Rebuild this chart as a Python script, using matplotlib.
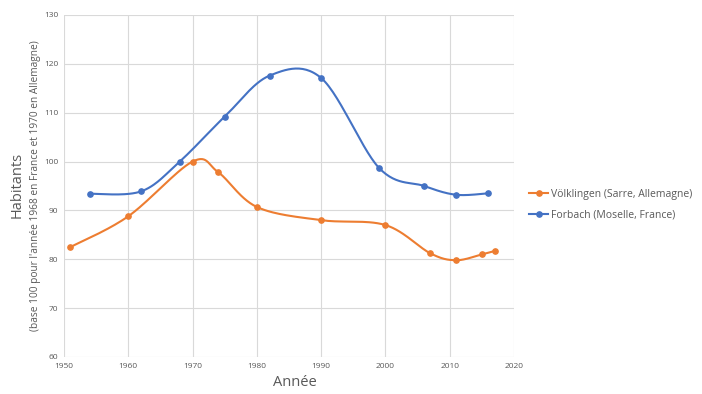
import numpy as np
import matplotlib.pyplot as plt

# Valeurs (base 100)
volk_years = [1951, 1960, 1970, 1974, 1980, 1990, 2000, 2007, 2011, 2015, 2017]
volk_values = [82.5, 88.8, 100.0, 97.8, 90.7, 88.0, 87.0, 81.2, 79.8, 81.0, 81.7]

forb_years = [1954, 1962, 1968, 1975, 1982, 1990, 1999, 2006, 2011, 2016]
forb_values = [93.4, 93.9, 100.0, 109.2, 117.6, 117.1, 98.7, 95.0, 93.2, 93.5]

volk_label = "Völklingen (Sarre, Allemagne)"
forb_label = "Forbach (Moselle, France)"

plt.rcParams['font.family'] = ['Open Sans', 'DejaVu Sans']


# Excel-style smoothed line (cardinal spline through the points)
def smooth(xs, ys, n=30):
    p = np.column_stack([xs, ys]).astype(float)
    p = np.vstack([p[0], p, p[-1]])
    out = []
    for i in range(1, len(p) - 2):
        p0, p1, p2, p3 = p[i - 1], p[i], p[i + 1], p[i + 2]
        c1 = p1 + (p2 - p0) / 6
        c2 = p2 - (p3 - p1) / 6
        t = np.linspace(0, 1, n)[:, None]
        seg = ((1 - t) ** 3) * p1 + 3 * ((1 - t) ** 2) * t * c1 + 3 * (1 - t) * t ** 2 * c2 + t ** 3 * p2
        out.append(seg)
    out = np.vstack(out)
    return out[:, 0], out[:, 1]


fig = plt.figure(figsize=(7.02, 3.94), dpi=100)
ax = fig.add_axes([0.0912, 0.094, 0.641, 0.868])

orange = '#ED7D31'
blue = '#4472C4'

sx, sy = smooth(volk_years, volk_values)
ax.plot(sx, sy, color=orange, lw=1.5)
ax.plot(volk_years, volk_values, 'o', color=orange, ms=3.8)
ax.plot([], [], '-o', color=orange, ms=3.8, lw=1.5, label=volk_label)

sx, sy = smooth(forb_years, forb_values)
ax.plot(sx, sy, color=blue, lw=1.5)
ax.plot(forb_years, forb_values, 'o', color=blue, ms=3.8)
ax.plot([], [], '-o', color=blue, ms=3.8, lw=1.5, label=forb_label)

ax.set_xlim(1950, 2020)
ax.set_ylim(60, 130)
ax.set_xticks(range(1950, 2021, 10))
ax.set_yticks(range(60, 131, 10))
ax.grid(True, color='#D9D9D9', lw=0.8)
ax.set_axisbelow(True)
for s in ax.spines.values():
    s.set_visible(False)
ax.tick_params(length=0, labelsize=6, colors='#595959', pad=4)

fig.text(0.42, 0.01, "Année", fontsize=10.5, color='#595959', ha='center', va='bottom')
fig.text(0.024, 0.53, "Habitants", fontsize=10.5, color='#595959', rotation=90, ha='center', va='center')
fig.text(0.051, 0.53, "(base 100 pour l'année 1968 en France et 1970 en Allemagne)", fontsize=7.3,
         color='#595959', rotation=90, ha='center', va='center')

ax.legend(loc='center left', bbox_to_anchor=(1.025, 0.445), frameon=False, fontsize=7.5,
          labelcolor='#595959', handlelength=1.8, handletextpad=0.3, borderaxespad=0.0,
          labelspacing=1.0)

fig.savefig('out.png', dpi=100)
